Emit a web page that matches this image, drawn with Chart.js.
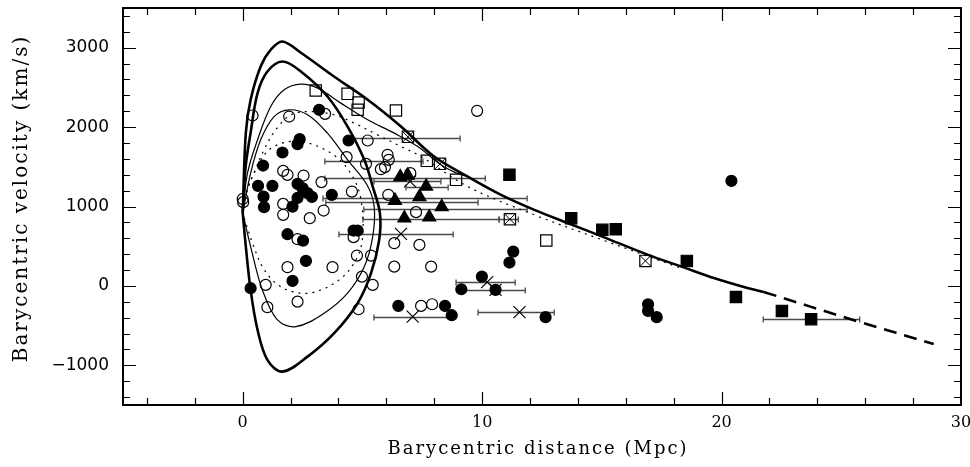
<!DOCTYPE html>
<html>
<head>
<meta charset="utf-8">
<script src="https://cdn.jsdelivr.net/npm/chart.js@4.4.1/dist/chart.umd.min.js"></script>
<style>
  html, body { margin: 0; padding: 0; background: #fff; }
</style>
</head>
<body>
<canvas id="chart" width="970" height="467"></canvas>
<script>
// axis ticks and titles
const xTicks = [0, 10, 20, 30];
const yTicks = [-1000, 0, 1000, 2000, 3000];
const xTitle = 'Barycentric distance (Mpc)';
const yTitle = 'Barycentric velocity (km/s)';

// model curves, [distance (Mpc), velocity (km/s)]
const outerThick = [[0, 920], [0.13, 1928], [0.33, 2344], [0.75, 2763], [1.17, 2974], [1.66, 3078],
  [2.43, 2936], [3.81, 2637], [5.22, 2344], [6.61, 2007], [7.99, 1629], [9.40, 1377], [10.79, 1147],
  [12.18, 958], [13.59, 790], [15.02, 621], [16.93, 391], [18.33, 243], [19.71, 97], [21.12, -29], [21.76, -76]];
const hubbleDashed = [[21.76, -76], [25.72, -450], [28.86, -731]];
const innerThick = [[0, 920], [0.04, 1125], [0.13, 1525], [0.33, 1928], [0.62, 2428], [1.03, 2700],
  [1.66, 2826], [2.43, 2700], [3.54, 2385], [4.38, 2007], [5.08, 1588], [5.43, 1251], [5.73, 916],
  [5.70, 580], [5.36, 160], [4.80, -218], [3.82, -596], [2.71, -891], [1.66, -1080], [1.03, -932],
  [0.62, -554], [0.33, -50], [0.13, 495], [0, 920]];
const outerThin = [[0, 920], [0.20, 1420], [0.62, 1840], [1.17, 2259], [1.73, 2470], [2.43, 2541],
  [3.13, 2491], [4.10, 2302], [5.22, 2092], [6.33, 1924], [7.31, 1755], [8.28, 1525], [8.91, 1424], [9.40, 1377]];
const innerThin = [[0, 920], [0.33, 1420], [0.75, 1840], [1.31, 2133], [1.94, 2218], [2.71, 2155],
  [3.54, 1924], [4.38, 1588], [5.19, 1273], [5.49, 999], [5.43, 621], [5.08, 243], [4.38, -92],
  [3.40, -344], [2.22, -513], [1.45, -428], [0.82, -50], [0.33, 495], [0, 920]];
const outerDotted = [[0, 920], [0.13, 1168], [0.47, 1420], [0.89, 1714], [1.38, 1966], [2.01, 2155],
  [2.85, 2196], [3.82, 2155], [4.66, 2050], [5.49, 1924], [6.61, 1755], [7.45, 1629], [9.40, 1251],
  [12.18, 895], [15.02, 580], [18.33, 220]];
const innerDotted = [[0, 920], [0.20, 1210], [0.54, 1462], [1.10, 1714], [1.94, 1818], [2.77, 1798],
  [3.89, 1629], [4.59, 1377], [4.94, 1084], [5.01, 621], [4.73, 328], [4.03, 76], [2.92, -84],
  [2.08, -72], [1.38, 34], [0.82, 243], [0.41, 538], [0.13, 790], [0, 920]];

// galaxies
const openSquares = [[3.05, 2461], [4.38, 2419], [4.84, 2310], [4.80, 2218], [6.40, 2209],
  [7.69, 1575], [8.91, 1336], [12.68, 571]];
const crossedSquares = [[6.90, 1877], [8.24, 1537], [11.16, 840], [16.82, 315]];
const filledSquares = [[11.14, 1399], [13.72, 853], [15.02, 706], [15.58, 714], [18.55, 315],
  [20.60, -139], [22.52, -315], [23.74, -420]];
const filledCircles = [[3.19, 2218], [4.42, 1831], [2.38, 1848], [2.29, 1785], [1.66, 1680],
  [0.85, 1516], [0.64, 1260], [1.24, 1260], [0.87, 1125], [0.89, 992], [2.29, 1285], [2.50, 1231],
  [2.71, 1168], [2.89, 1121], [2.29, 1109], [2.08, 999], [3.72, 1147], [4.63, 697], [4.80, 697],
  [1.87, 651], [2.52, 571], [2.64, 315], [2.08, 63], [0.33, -29], [11.30, 432], [11.14, 294],
  [9.99, 117], [9.13, -42], [10.56, -50], [6.50, -252], [8.45, -252], [8.73, -369], [12.65, -394],
  [20.41, 1323], [16.93, -231], [16.93, -315], [17.29, -394]];
const openCircles = [[0.41, 2146], [1.94, 2133], [3.44, 2167], [5.22, 1831], [4.34, 1622],
  [5.15, 1537], [6.05, 1651], [6.10, 1588], [5.94, 1496], [5.77, 1470], [1.69, 1449], [1.87, 1399],
  [2.54, 1390], [3.29, 1307], [4.56, 1188], [6.08, 1147], [1.69, 1033], [3.38, 949], [1.69, 895],
  [2.80, 853], [0, 1095], [0.02, 1055], [4.63, 614], [2.29, 588], [6.33, 538], [4.77, 382],
  [5.36, 382], [1.87, 236], [3.75, 236], [6.33, 243], [0.96, 13], [4.98, 117], [5.43, 13],
  [1.03, -268], [2.29, -198], [4.84, -294], [7.38, 517], [7.87, 243], [7.45, -252], [7.91, -231],
  [7.00, 1420], [7.24, 929], [9.79, 2205]];
const triangles = [[6.58, 1373], [6.89, 1392], [7.66, 1254], [6.36, 1075], [7.38, 1121],
  [8.31, 995], [6.75, 853], [7.79, 866]];
const crosses = [[6.99, 1317], [6.61, 655], [10.21, 47], [10.56, -50], [11.56, -331], [7.10, -387]];

// distance error bars, [velocity, low, high]
const errorBars = [[1865, 4.31, 9.08], [1575, 3.43, 7.53], [1361, 3.43, 10.13], [1323, 5.48, 8.28],
  [1247, 6.82, 8.58], [1109, 3.35, 11.88], [1058, 3.47, 9.83], [970, 5.06, 11.88], [844, 5.02, 10.71],
  [840, 10.71, 11.51], [655, 4.02, 8.79], [47, 8.91, 11.38], [-50, 9.12, 11.80], [-331, 9.83, 13.01],
  [-387, 5.48, 8.70], [-420, 21.74, 25.77]];

const pts = arr => arr.map(([x, y]) => ({x, y}));

function curve(arr, width, dash) {
  return {
    data: pts(arr), showLine: true, pointRadius: 0, borderColor: '#000',
    borderWidth: width, borderDash: dash || [], tension: 0.35, fill: false
  };
}

function marks(arr, style, radius, filled, width) {
  return {
    data: pts(arr), showLine: false, pointStyle: style, pointRadius: radius,
    borderColor: '#000', backgroundColor: filled ? '#000' : 'rgba(0,0,0,0)',
    pointBorderWidth: width || 1.2
  };
}

// no extra room for the end labels, the box is fixed
function fixedBox(s, size) {
  if (s.isHorizontal()) s.height = size; else s.width = size;
  s.paddingTop = s.paddingBottom = s.paddingLeft = s.paddingRight = 0;
}

// horizontal error bars with small end caps
const errorBarPlugin = {
  id: 'errorBars',
  beforeDatasetsDraw(chart) {
    const {ctx, scales: {x, y}} = chart;
    ctx.save();
    ctx.strokeStyle = '#4a4a4a';
    ctx.lineWidth = 1.3;
    errorBars.forEach(([v, lo, hi]) => {
      const py = Math.round(y.getPixelForValue(v)) + 0.5;
      const x0 = x.getPixelForValue(lo), x1 = x.getPixelForValue(hi);
      ctx.beginPath();
      ctx.moveTo(x0, py); ctx.lineTo(x1, py);
      ctx.moveTo(x0, py - 3); ctx.lineTo(x0, py + 3);
      ctx.moveTo(x1, py - 3); ctx.lineTo(x1, py + 3);
      ctx.stroke();
    });
    ctx.restore();
  }
};

// box with inward ticks on all four sides, plus the axis titles
const framePlugin = {
  id: 'frame',
  afterDraw(chart) {
    const {ctx, chartArea: a, scales: {x, y}} = chart;
    ctx.save();
    ctx.strokeStyle = '#000';
    ctx.lineWidth = 1.2;
    ctx.beginPath();
    for (let v = -4; v <= 28; v += 2) {
      const px = Math.round(x.getPixelForValue(v)) + 0.5;
      const len = v % 10 === 0 ? 13 : 7;
      ctx.moveTo(px, a.bottom); ctx.lineTo(px, a.bottom - len);
      ctx.moveTo(px, a.top); ctx.lineTo(px, a.top + len);
    }
    for (let v = -1400; v <= 3400; v += 200) {
      const py = Math.round(y.getPixelForValue(v)) + 0.5;
      const len = v % 1000 === 0 ? 13 : 7;
      ctx.moveTo(a.left, py); ctx.lineTo(a.left + len, py);
      ctx.moveTo(a.right, py); ctx.lineTo(a.right - len, py);
    }
    ctx.stroke();
    ctx.lineWidth = 2;
    ctx.strokeRect(a.left, a.top, a.right - a.left, a.bottom - a.top);

    ctx.fillStyle = '#000';
    ctx.textAlign = 'center';
    ctx.textBaseline = 'middle';
    ctx.letterSpacing = '2px';
    ctx.font = '18px "DejaVu Serif"';
    ctx.fillText(xTitle, (a.left + a.right) / 2 - 4, a.bottom + 44);
    ctx.translate(22, (a.top + a.bottom) / 2 - 8);
    ctx.rotate(-Math.PI / 2);
    ctx.font = '20px "DejaVu Serif"';
    ctx.fillText(yTitle, 0, 0);
    ctx.restore();
  }
};

new Chart(document.getElementById('chart'), {
  type: 'scatter',
  data: {
    datasets: [
      curve(outerThick, 2.6),
      curve(hubbleDashed, 2.6, [13, 8]),
      curve(innerThick, 2.6),
      curve(outerThin, 1.2),
      curve(innerThin, 1.2),
      curve(outerDotted, 1.2, [2, 5]),
      curve(innerDotted, 1.2, [2, 5]),
      marks(openCircles, 'circle', 5.5, false),
      marks(filledCircles, 'circle', 5.5, true),
      marks(openSquares, 'rect', 8, false),
      marks(crossedSquares, 'rect', 8, false),
      marks(crossedSquares, 'crossRot', 7.5, false, 1),
      marks(filledSquares, 'rect', 8, true),
      marks(triangles, 'triangle', 7.5, true),
      marks(crosses, 'crossRot', 8.5, false, 1.2)
    ]
  },
  options: {
    responsive: false,
    animation: false,
    devicePixelRatio: 1,
    layout: { autoPadding: false, padding: { left: 0, right: 9, top: 8, bottom: 0 } },
    plugins: { legend: { display: false }, tooltip: { enabled: false } },
    scales: {
      x: {
        min: -5, max: 30,
        grid: { display: false, drawTicks: false },
        border: { display: false },
        afterFit: s => fixedBox(s, 62),
        afterBuildTicks: s => { s.ticks = xTicks.map(v => ({value: v})); },
        ticks: {
          color: '#000', padding: 8, maxRotation: 0,
          font: { family: 'DejaVu Serif', size: 16 },
          callback: v => String(v)
        }
      },
      y: {
        min: -1500, max: 3500,
        grid: { display: false, drawTicks: false },
        border: { display: false },
        afterFit: s => fixedBox(s, 123),
        afterBuildTicks: s => { s.ticks = yTicks.map(v => ({value: v})); },
        ticks: {
          color: '#000', padding: 14,
          font: { family: 'DejaVu Sans', size: 17 },
          callback: v => String(v).replace('-', '\u2212')
        }
      }
    }
  },
  plugins: [errorBarPlugin, framePlugin]
});
</script>
</body>
</html>
